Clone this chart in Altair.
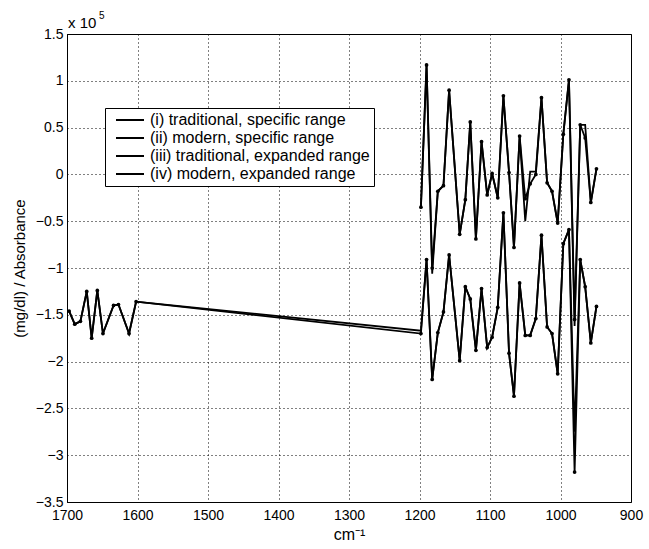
import altair as alt
import pandas as pd

# ---- data (values in units of 1e5) ----
labels = ["(i) traditional, specific range", "(ii) modern, specific range",
          "(iii) traditional, expanded range", "(iv) modern, expanded range"]

x_spec = [1198, 1190, 1182, 1174, 1166, 1158, 1143, 1135, 1128, 1120, 1112, 1104, 1097, 1089,
          1081, 1073, 1066, 1058, 1050, 1043, 1035, 1027, 1019, 1012, 1004, 996, 988, 980, 972,
          965, 957, 949]
trad_spec = [-0.35, 1.17, -1.06, -0.18, -0.12, 0.90, -0.64, -0.27, 0.56, -0.69, 0.35, -0.22, 0.01,
             -0.25, 0.84, 0.02, -0.78, 0.41, -0.50, 0.03, 0.03, 0.82, -0.09, -0.18, -0.52, 0.43,
             1.01, -1.62, 0.53, 0.53, -0.30, 0.06]
mod_spec = [-0.35, 1.17, -1.00, -0.18, -0.12, 0.90, -0.64, -0.27, 0.56, -0.69, 0.35, -0.22, 0.01,
            -0.25, 0.84, 0.02, -0.78, 0.41, -0.26, -0.10, 0.00, 0.82, -0.09, -0.18, -0.52, 0.43,
            1.01, -1.55, 0.53, 0.39, -0.30, 0.06]

x_left = [1697, 1689, 1681, 1672, 1665, 1657, 1649, 1634, 1627, 1612, 1602]
left_vals = [-1.46, -1.60, -1.57, -1.25, -1.75, -1.24, -1.70, -1.40, -1.39, -1.70, -1.36]

trad_exp_right = [-1.67, -0.91, -2.19, -1.69, -1.47, -0.86, -1.99, -1.20, -1.33, -1.88, -1.22,
                  -1.85, -1.74, -1.42, -0.41, -1.91, -2.37, -1.16, -1.72, -1.72, -1.54, -0.65,
                  -1.63, -1.70, -2.13, -0.74, -0.59, -2.75, -0.91, -1.20, -1.80, -1.41]
mod_exp_right = [-1.70, -0.91, -2.19, -1.69, -1.47, -0.86, -1.99, -1.20, -1.33, -1.88, -1.22,
                 -1.85, -1.74, -1.42, -0.41, -1.91, -2.37, -1.16, -1.72, -1.72, -1.54, -0.65,
                 -1.63, -1.70, -2.13, -0.74, -0.59, -3.18, -0.91, -1.20, -1.80, -1.41]

x_ticks = [1700, 1600, 1500, 1400, 1300, 1200, 1100, 1000, 900]
y_ticks = [1.5, 1, 0.5, 0, -0.5, -1, -1.5, -2, -2.5, -3, -3.5]

rows = []
for xv, yv in zip(x_spec, trad_spec):
    rows.append({"x": xv, "y": yv, "series": labels[0], "modern": False})
for xv, yv in zip(x_spec, mod_spec):
    rows.append({"x": xv, "y": yv, "series": labels[1], "modern": True})
for xv, yv in zip(x_left + x_spec, left_vals + trad_exp_right):
    rows.append({"x": xv, "y": yv, "series": labels[2], "modern": False})
for xv, yv in zip(x_left + x_spec, left_vals + mod_exp_right):
    rows.append({"x": xv, "y": yv, "series": labels[3], "modern": True})
df = pd.DataFrame(rows)

FONT = "Liberation Sans"

xscale = alt.Scale(domain=[1700, 900], nice=False, zero=False)
yscale = alt.Scale(domain=[-3.5, 1.5], nice=False, zero=False)

xenc = alt.X("x:Q", scale=xscale,
             axis=alt.Axis(values=x_ticks, title="cm⁻¹", format="d", labelPadding=6,
                           titlePadding=4, titleFontSize=16))
yenc = alt.Y("y:Q", scale=yscale,
             axis=alt.Axis(values=y_ticks, title="(mg/dl) / Absorbance",
                           labelExpr="replace(format(datum.value, '~g'), '-', '−')",
                           labelPadding=4, titlePadding=8, titleFontSize=15))

lines = alt.Chart(df).mark_line(strokeWidth=1.8, clip=True).encode(
    x=xenc, y=yenc,
    stroke=alt.Stroke("series:N", scale=alt.Scale(domain=labels, range=["black"] * 4),
                      legend=alt.Legend(title=None, orient="none", legendX=38, legendY=74,
                                        padding=4, strokeColor="black", fillColor="white",
                                        labelFont=FONT, labelFontSize=16, labelColor="black",
                                        labelLimit=0,
                                        symbolType="M-2.8,0H2.8", symbolSize=100,
                                        symbolStrokeWidth=2, symbolOffset=13,
                                        labelOffset=12, rowPadding=2)),
)

points = alt.Chart(df).transform_filter("datum.modern").mark_circle(
    size=14, color="black", opacity=1, clip=True).encode(
    x=alt.X("x:Q", scale=xscale), y=alt.Y("y:Q", scale=yscale), detail="series:N")

ann1 = alt.Chart(pd.DataFrame({"t": ["x 10"]})).mark_text(
    align="left", baseline="alphabetic", font=FONT, fontSize=15, color="black").encode(
    x=alt.value(1), y=alt.value(-6), text="t:N")
ann2 = alt.Chart(pd.DataFrame({"t": ["5"]})).mark_text(
    align="left", baseline="alphabetic", font=FONT, fontSize=10, color="black").encode(
    x=alt.value(32), y=alt.value(-15), text="t:N")

chart = alt.layer(lines, points, ann1, ann2).properties(
    width=564, height=468,
    autosize=alt.AutoSizeParams(type="none"),
    padding={"left": 67, "top": 34, "right": 18, "bottom": 47},
    background="white",
).configure_view(stroke="black", strokeWidth=1).configure_axis(
    labelFont=FONT, titleFont=FONT, labelFontSize=14, labelColor="black",
    titleColor="black", titleFontWeight="normal", domainColor="black", domainWidth=1,
    labelFlush=False,
    ticks=False, grid=True, gridColor="black", gridDash=[1, 3], gridOpacity=1, gridWidth=1,
)

chart.save("out.html", embed_options={"renderer": "svg", "actions": False})
